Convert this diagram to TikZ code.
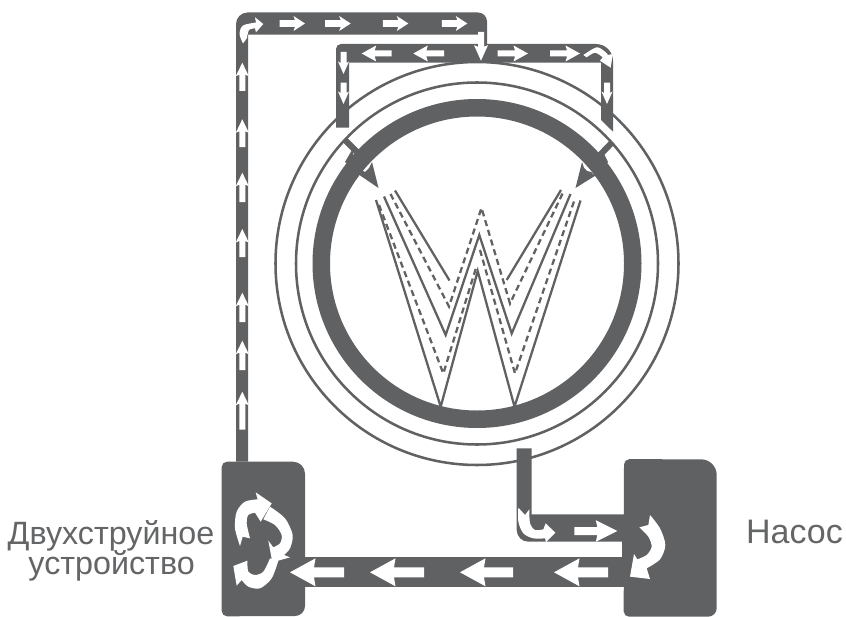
\documentclass[tikz,border=0pt]{standalone}
\usepackage{fontspec}
\setmainfont{Liberation Sans}
\definecolor{pipe}{HTML}{606163}
\definecolor{lab}{HTML}{646567}
\tikzset{
  pipefill/.style={fill=pipe},
  ringline/.style={draw=pipe,line width=1.9pt},
  wsolid/.style={draw=pipe,line width=1.7pt,line join=miter},
  wdash/.style={draw=pipe,line width=1.7pt,dash pattern=on 4.6pt off 3pt,line join=miter},
  labeltext/.style={text=lab,font=\fontsize{24.2pt}{28pt}\selectfont,align=center,inner sep=0pt},
  pumptext/.style={text=lab,font=\fontsize{25.5pt}{28pt}\selectfont,inner sep=0pt}
}
% tip x, tip y, length, angle, shaft half, head half, head length
\newcommand{\arw}[7]{\fill[white,shift={(#1,#2)},rotate=#4] (0,0) -- (-#7-1.5,#6) -- (-#7,#5) -- (-#3,#5) -- (-#3,-#5) -- (-#7,-#5) -- (-#7-1.5,-#6) -- cycle;}
\begin{document}
\begin{tikzpicture}[x=0.75pt,y=-0.75pt]
\useasboundingbox (0,0) rectangle (846,617);
% rings
\coordinate (c) at (477,263.5);
\draw[ringline] (c) circle (201.5);
\draw[ringline] (c) circle (181);
\path[pipefill,even odd rule] (c) circle (164.5) (c) circle (147);
% ticks and nozzles
\draw[pipe,line width=4.6pt] (344.5,139.5) -- (358,153);
\draw[pipe,line width=4.6pt] (612.5,142) -- (600,155);
\fill[pipe] (352,150) -- (360,173) -- (361,170) -- (365,172) -- (369,168) -- (372,162) -- (378.5,188) -- (355,172) -- (345,162) -- cycle;
\fill[pipe] (602,150) -- (594,175) -- (591,172) -- (587,171) -- (584,168) -- (582,162) -- (575.5,188) -- (598,174) -- (608,162) -- cycle;
% W lines
\draw[wsolid] (376,200) -- (440.7,406.7) -- (477.7,271) -- (514.5,406.7) -- (580.5,200.5);
\draw[wdash] (379,205) -- (443.3,373.5) -- (476,268);
\draw[wdash] (480,250) -- (515,373.5) -- (575,198.5);
\draw[wsolid] (384,196.5) -- (445.7,335) -- (479.3,235) -- (511.7,333.5) -- (570.5,194);
\draw[wdash] (390.5,194) -- (449,306.5) -- (481.5,208) -- (510,303.5) -- (564,190.5);
\draw[wsolid] (395,190.5) -- (449.5,280.5);
\draw[wsolid] (506.7,280) -- (561,190);
% pipes
\path[pipefill] (236,461.7) -- (236,24) arc[start angle=180,end angle=270,radius=11.5] -- (478,12.5) arc[start angle=-90,end angle=0,radius=9] -- (487,46) -- (479,46) -- (479,34.7) -- (248,34.7) -- (248,461.7) -- cycle;
\path[pipefill] (336,127.7) -- (336,49) arc[start angle=180,end angle=270,radius=5] -- (596,44) arc[start angle=-90,end angle=0,radius=17] -- (613,131.7) -- (601,120) -- (601,62.7) -- (349,62.7) -- (349,127.7) -- cycle;
% exit pipe and boxes
\path[pipefill] (516.7,448.3) -- (516.7,530) arc[start angle=180,end angle=90,radius=11.7] -- (625,541.7) -- (625,514.3) -- (531.7,514.3) -- (531.7,448.3) -- cycle;
\path[pipefill] (300,557.3) rectangle (626,586.7);
\path[pipefill] (621.7,541) rectangle (626,558);
\path[pipefill] (221.7,467) arc[start angle=180,end angle=270,radius=5.3] -- (293,461.7) arc[start angle=-90,end angle=0,radius=12] -- (305,606) arc[start angle=0,end angle=90,radius=10] -- (227,616.3) arc[start angle=90,end angle=180,radius=5.3] -- cycle;
\path[pipefill] (624,464.5) arc[start angle=180,end angle=270,radius=5.3] -- (701,459.3) arc[start angle=-90,end angle=0,radius=15.7] -- (716.7,608) arc[start angle=0,end angle=90,radius=8.7] -- (629,616.7) arc[start angle=90,end angle=180,radius=5.3] -- cycle;
% straight arrows: top pipe
\arw{305}{23.5}{25.5}{0}{3.3}{7.5}{10}
\arw{350.7}{23.5}{25.5}{0}{3.3}{7.5}{10}
\arw{408.3}{23.5}{25.5}{0}{3.3}{7.5}{10}
\arw{467.3}{23.5}{25.5}{0}{3.3}{7.5}{10}
% second pipe
\arw{481}{60.7}{28.7}{270}{3}{7}{14}
\arw{361.7}{53.5}{30}{180}{3}{8}{13}
\arw{413.3}{53.5}{30.7}{180}{3}{8}{13}
\arw{528}{53.5}{30.3}{0}{3}{8}{13}
\arw{580}{53.5}{30}{0}{3}{8}{13}
\arw{343.5}{74}{22}{270}{3}{5.5}{11}
\arw{343.5}{104}{21.3}{270}{3}{5.5}{11}
\arw{607}{104}{21.3}{270}{3}{5.5}{11}
% left pipe
\arw{242.3}{62.7}{28.3}{90}{3}{6.5}{12}
\arw{242.3}{119.3}{27.7}{90}{3}{6.5}{12}
\arw{242.3}{172.7}{29.3}{90}{3}{6.5}{12}
\arw{242.3}{229}{28}{90}{3}{6.5}{12}
\arw{242.3}{292.7}{29.3}{90}{3}{6.5}{12}
\arw{242.3}{340.7}{29.3}{90}{3}{6.5}{12}
\arw{242.3}{391.7}{38}{90}{3}{6.5}{12}
% bottom pipes
\arw{290}{572.3}{54}{180}{5}{14}{24}
\arw{370}{572.3}{54}{180}{5}{14}{24}
\arw{460}{572.3}{53}{180}{5}{14}{24}
\arw{554}{572.3}{54}{180}{5}{14}{24}
\arw{617.3}{531}{43}{0}{4}{10.8}{20}
% curved arrows in pipes
\fill[white] (243,43.5) -- plot[smooth] coordinates {(243,43.5) (239.5,34) (243,25.5) (256,22.5)} -- (255,17.3) -- (263.3,24) -- (256,32.3) -- (255,28.3) -- plot[smooth] coordinates {(255,28.3) (249,30) (247,38)} -- cycle;
\fill[white] (583.3,55) -- plot[smooth] coordinates {(583.3,55) (596.7,47.3) (605,51.7) (608,55)} -- (612.7,54) -- (610.7,67.7) -- (600,60.7) -- (602.7,57.3) -- plot[smooth] coordinates {(602.7,57.3) (595,52.7) (586.7,57.3)} -- cycle;
% elbow arrow
\begin{scope}[shift={(480,440)},scale=1/3]
\fill[white] (115,203) -- plot[smooth] coordinates {(115,203) (115,245) (130,280) (160,295) (195,295)} -- (198,306) -- (226,278) -- (197,250) -- (190,268) -- plot[smooth] coordinates {(190,268) (165,270) (150,250) (148,208)} -- (135,225) -- cycle;
% pump arrow
\fill[white] (510,225) -- plot[smooth] coordinates {(510,225) (540,265) (556,315) (540,358) (500,385)} -- (510,417) -- (450,410) -- (462,342) -- (472,358) -- plot[smooth] coordinates {(472,358) (500,345) (515,320) (505,290) (478,262)} -- (505,255) -- cycle;
\end{scope}
% device arrows
\begin{scope}[shift={(210,440)},scale=1/3]
\fill[white] (185,190) -- (137,157) -- (143,178) -- plot[smooth] coordinates {(143,178) (105,185) (80,215) (75,265) (90,318)} -- (98,290) -- (120,295) -- plot[smooth] coordinates {(120,295) (110,250) (115,225) (135,218)} -- (152,245) -- cycle;
\fill[white] (160,238) -- (180,200) -- plot[smooth] coordinates {(180,200) (225,235) (248,285) (240,325) (222,345)} -- (240,352) -- (187,367) -- (175,302) -- (190,322) -- plot[smooth] coordinates {(190,322) (210,310) (215,285) (195,255) (160,238)} -- cycle;
\fill[white] (70,378) -- (112,362) -- plot[smooth] coordinates {(112,362) (115,395) (135,405) (160,395) (180,355)} -- (205,362) -- plot[smooth] coordinates {(205,362) (185,415) (150,445) (115,440) (95,420)} -- (80,437) -- cycle;
\end{scope}
% labels
\node[labeltext,anchor=base] (dev1) at (111,544) {Двухструйное};
\node[labeltext,anchor=base] (dev2) at (111.6,574.5) {устройство};
\node[pumptext,anchor=base] (pump) at (794.5,543.3) {Насос};
\end{tikzpicture}
\end{document}
